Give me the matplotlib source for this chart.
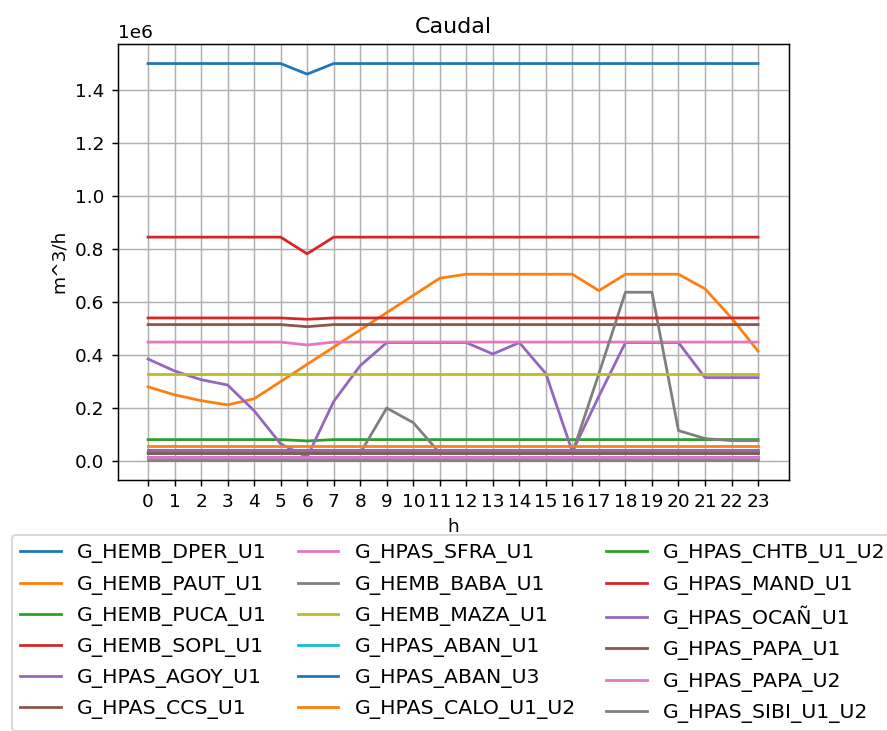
from matplotlib import pyplot as plt
import numpy as np

# hours
horas = list(range(24))

# caudal por unidad (m^3/h, en millones)
names = ['G_HEMB_DPER_U1', 'G_HEMB_PAUT_U1', 'G_HEMB_PUCA_U1', 'G_HEMB_SOPL_U1',
         'G_HPAS_AGOY_U1', 'G_HPAS_CCS_U1', 'G_HPAS_SFRA_U1', 'G_HEMB_BABA_U1',
         'G_HEMB_MAZA_U1', 'G_HPAS_ABAN_U1', 'G_HPAS_ABAN_U3', 'G_HPAS_CALO_U1_U2',
         'G_HPAS_CHTB_U1_U2', 'G_HPAS_MAND_U1', 'G_HPAS_OCAÑ_U1', 'G_HPAS_PAPA_U1',
         'G_HPAS_PAPA_U2', 'G_HPAS_SIBI_U1_U2']

dper = [1.50, 1.50, 1.50, 1.50, 1.50, 1.50, 1.46, 1.50, 1.50, 1.50, 1.50, 1.50,
        1.50, 1.50, 1.50, 1.50, 1.50, 1.50, 1.50, 1.50, 1.50, 1.50, 1.50, 1.50]
paut = [0.28, 0.25, 0.228, 0.212, 0.235, 0.30, 0.365, 0.43, 0.495, 0.56, 0.625, 0.69,
        0.705, 0.705, 0.705, 0.705, 0.705, 0.643, 0.705, 0.705, 0.705, 0.65, 0.54, 0.415]
puca = [0.081, 0.081, 0.081, 0.081, 0.081, 0.081, 0.076, 0.081, 0.081, 0.081, 0.081, 0.081,
        0.081, 0.081, 0.081, 0.081, 0.081, 0.081, 0.081, 0.081, 0.081, 0.081, 0.081, 0.081]
sopl = [0.845, 0.845, 0.845, 0.845, 0.845, 0.845, 0.782, 0.845, 0.845, 0.845, 0.845, 0.845,
        0.845, 0.845, 0.845, 0.845, 0.845, 0.845, 0.845, 0.845, 0.845, 0.845, 0.845, 0.845]
agoy = [0.385, 0.34, 0.307, 0.287, 0.19, 0.065, 0.015, 0.225, 0.36, 0.447, 0.447, 0.447,
        0.447, 0.404, 0.447, 0.33, 0.035, 0.245, 0.447, 0.447, 0.447, 0.315, 0.315, 0.315]
ccs = [0.515, 0.515, 0.515, 0.515, 0.515, 0.515, 0.507, 0.515, 0.515, 0.515, 0.515, 0.515,
       0.515, 0.515, 0.515, 0.515, 0.515, 0.515, 0.515, 0.515, 0.515, 0.515, 0.515, 0.515]
sfra = [0.449, 0.449, 0.449, 0.449, 0.449, 0.449, 0.438, 0.449, 0.449, 0.449, 0.449, 0.449,
        0.449, 0.449, 0.449, 0.449, 0.449, 0.449, 0.449, 0.449, 0.449, 0.449, 0.449, 0.449]
baba = [0.03, 0.03, 0.03, 0.03, 0.03, 0.03, 0.03, 0.03, 0.03, 0.20, 0.145, 0.03,
        0.03, 0.03, 0.03, 0.03, 0.03, 0.33, 0.637, 0.637, 0.115, 0.085, 0.077, 0.077]
maza = [0.328] * 24
aban1 = [0.03] * 24
aban3 = [0.015] * 24
calo = [0.057] * 24
chtb = [0.042] * 24
mand = [0.54, 0.54, 0.54, 0.54, 0.54, 0.54, 0.535, 0.54, 0.54, 0.54, 0.54, 0.54,
        0.54, 0.54, 0.54, 0.54, 0.54, 0.54, 0.54, 0.54, 0.54, 0.54, 0.54, 0.54]
ocan = [0.042] * 24
papa1 = [0.03] * 24
papa2 = [0.017] * 24
sibi = [0.004] * 24

series = [dper, paut, puca, sopl, agoy, ccs, sfra, baba, maza, aban1, aban3,
          calo, chtb, mand, ocan, papa1, papa2, sibi]

fig = plt.figure(figsize=(887/133, 731/133), dpi=133)
ax = fig.add_axes([0.1325, 0.3436, 0.7565, 0.5966])
for name, vals in zip(names, series):
    ax.plot(horas, np.array(vals) * 1e6, label=name)

ax.set_title('Caudal')
ax.set_xlabel('h')
ax.set_ylabel('m^3/h')
ax.set_xticks(horas)
ax.grid(True)
ax.legend(loc='upper center', bbox_to_anchor=(0.5, -0.104), ncol=3, fontsize=11,
          labelspacing=0.55, columnspacing=1.5)

fig.savefig('out.png', dpi=133)
